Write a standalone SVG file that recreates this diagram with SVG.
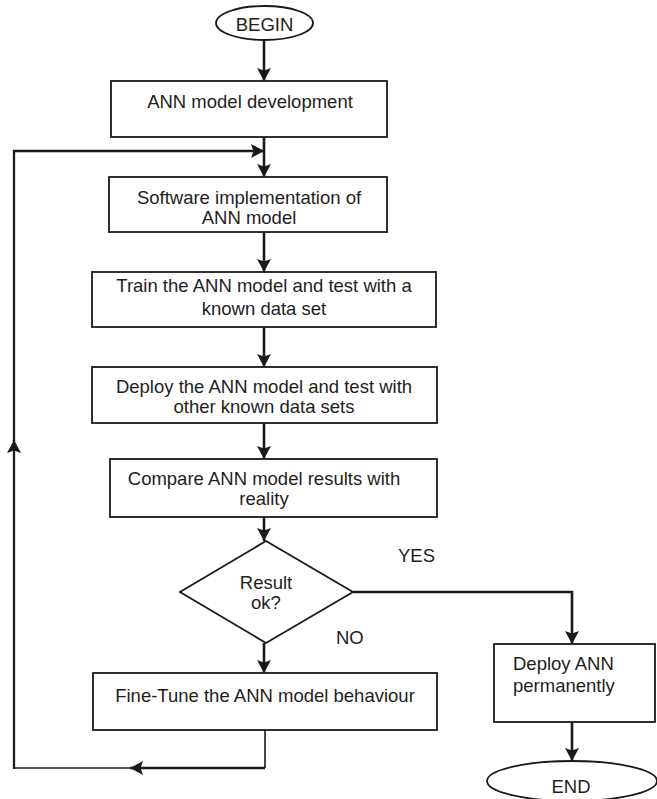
<svg xmlns="http://www.w3.org/2000/svg" width="657" height="799" viewBox="0 0 657 799">
  <style>
    .shape { fill: #ffffff; stroke: #1a1a1a; stroke-width: 1.8; }
    .label { font-family: "Liberation Sans", Arial, sans-serif; font-size: 18.5px; fill: #1e1e1e; }
    .mid { text-anchor: middle; }
    .flow { fill: none; stroke: #1a1a1a; stroke-width: 2.6; }
    .thin { fill: none; stroke: #1a1a1a; stroke-width: 1.6; }
    .loop { fill: none; stroke: #1a1a1a; stroke-width: 2.3; }
  </style>
  <defs>
    <marker id="head" markerUnits="userSpaceOnUse" markerWidth="14" markerHeight="14" refX="13" refY="7" orient="auto" viewBox="0 0 14 14">
      <path d="M0,0 L13,7 L0,14 L2.5,7 Z" fill="#1a1a1a"/>
    </marker>
  </defs>
  <rect width="657" height="799" fill="#ffffff"/>

  <g id="connectors">
    <path class="flow" d="M264,40 V81" marker-end="url(#head)"/>
    <path class="flow" d="M264,137 V177" marker-end="url(#head)"/>
    <path class="flow" d="M264,232 V272" marker-end="url(#head)"/>
    <path class="flow" d="M264,327 V367" marker-end="url(#head)"/>
    <path class="flow" d="M264,423 V459" marker-end="url(#head)"/>
    <path class="flow" d="M264,517 V541" marker-end="url(#head)"/>
    <path class="flow" d="M264,643 V673" marker-end="url(#head)"/>
    <path class="flow" d="M353,592 H572 V644" marker-end="url(#head)"/>
    <path class="flow" d="M572,722 V761" marker-end="url(#head)"/>
    <!-- feedback loop from fine-tuning back to implementation -->
    <path class="thin" d="M265,730 V768"/>
    <path class="flow" d="M265,768 H130" marker-end="url(#head)"/>
    <path class="thin" d="M131,768 H14"/>
    <path class="loop" d="M14,769 V440" marker-end="url(#head)"/>
    <path class="loop" d="M14,441 V151 H264" marker-end="url(#head)"/>
  </g>

  <g id="begin">
    <ellipse class="shape" cx="264.5" cy="23" rx="48.5" ry="17"/>
    <text class="label mid" x="264.5" y="31">BEGIN</text>
  </g>

  <g id="development">
    <rect class="shape" x="111" y="81" width="276" height="56"/>
    <text class="label mid" x="250" y="108">ANN model development</text>
  </g>

  <g id="implementation">
    <rect class="shape" x="109" y="177" width="278" height="55"/>
    <text class="label mid" x="249" y="204">Software implementation of</text>
    <text class="label mid" x="249" y="224">ANN model</text>
  </g>

  <g id="train">
    <rect class="shape" x="92" y="272" width="344" height="55"/>
    <text class="label mid" x="264" y="292">Train the ANN model and test with a</text>
    <text class="label mid" x="264" y="315">known data set</text>
  </g>

  <g id="deploy-test">
    <rect class="shape" x="92" y="367" width="345" height="56"/>
    <text class="label mid" x="264" y="393">Deploy the ANN model and test with</text>
    <text class="label mid" x="264" y="413">other known data sets</text>
  </g>

  <g id="compare">
    <rect class="shape" x="110" y="459" width="327" height="58"/>
    <text class="label mid" x="264" y="485">Compare ANN model results with</text>
    <text class="label mid" x="264" y="505">reality</text>
  </g>

  <g id="decision">
    <polygon class="shape" points="266,541 353,592 266,643 180,592"/>
    <text class="label mid" x="266" y="589">Result</text>
    <text class="label mid" x="266" y="609">ok?</text>
    <text class="label" x="398" y="562">YES</text>
    <text class="label" x="336" y="644">NO</text>
  </g>

  <g id="fine-tune">
    <rect class="shape" x="93" y="673" width="344" height="57"/>
    <text class="label mid" x="265" y="702">Fine-Tune the ANN model behaviour</text>
  </g>

  <g id="deploy-permanent">
    <rect class="shape" x="494" y="644" width="161" height="78"/>
    <text class="label" x="513" y="670">Deploy ANN</text>
    <text class="label" x="513" y="692">permanently</text>
  </g>

  <g id="end">
    <ellipse class="shape" cx="572" cy="781" rx="85" ry="20"/>
    <text class="label mid" x="571" y="793">END</text>
  </g>
</svg>
